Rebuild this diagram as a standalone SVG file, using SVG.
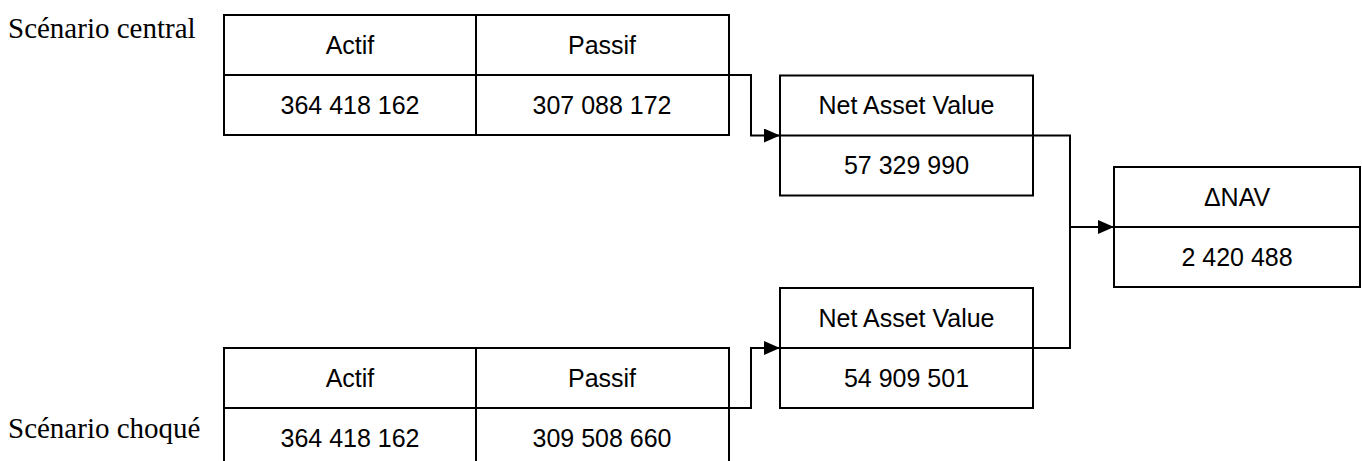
<svg xmlns="http://www.w3.org/2000/svg" width="1362" height="461" viewBox="0 0 1362 461">
<defs>
<marker id="arr" viewBox="0 0 16 14" refX="16" refY="7" markerWidth="16" markerHeight="14" markerUnits="userSpaceOnUse" orient="auto">
<path d="M0,0 L16,7 L0,14 z" fill="#000"/>
</marker>
<style>
.box{fill:#fff;stroke:#000;stroke-width:2}
.ln{fill:none;stroke:#000;stroke-width:2}
.t{font-family:"Liberation Sans",Arial,sans-serif;font-size:25px;fill:#000;text-anchor:middle}
.lbl{font-family:"Liberation Serif","Times New Roman",serif;font-size:29px;fill:#000}
</style>
</defs>
<rect width="1362" height="461" fill="#fff"/>
<text class="lbl" x="8" y="38">Scénario central</text>
<text class="lbl" x="8" y="438">Scénario choqué</text>
<g id="connectors">
<polyline class="ln" points="729,75 751,75 751,135.5 780,135.5" marker-end="url(#arr)"/>
<polyline class="ln" points="729,408 751,408 751,348 780,348" marker-end="url(#arr)"/>
<polyline class="ln" points="1033,135.5 1070,135.5 1070,227 1114,227" marker-end="url(#arr)"/>
<polyline class="ln" points="1033,348 1070,348 1070,227"/>
</g>
<g id="central">
<rect class="box" x="224" y="15" width="505" height="120"/>
<line class="ln" x1="224" y1="75" x2="729" y2="75"/>
<line class="ln" x1="476" y1="15" x2="476" y2="135"/>
<text class="t" x="350" y="54">Actif</text>
<text class="t" x="602" y="54">Passif</text>
<text class="t" x="350" y="114">364 418 162</text>
<text class="t" x="602" y="114">307 088 172</text>
</g>
<g id="choque">
<rect class="box" x="224" y="348" width="505" height="120"/>
<line class="ln" x1="224" y1="408" x2="729" y2="408"/>
<line class="ln" x1="476" y1="348" x2="476" y2="468"/>
<text class="t" x="350" y="387">Actif</text>
<text class="t" x="602" y="387">Passif</text>
<text class="t" x="350" y="447">364 418 162</text>
<text class="t" x="602" y="447">309 508 660</text>
</g>
<g id="nav1">
<rect class="box" x="780" y="75.5" width="253" height="120"/>
<line class="ln" x1="780" y1="135.5" x2="1033" y2="135.5"/>
<text class="t" x="906.5" y="114">Net Asset Value</text>
<text class="t" x="906.5" y="174">57 329 990</text>
</g>
<g id="nav2">
<rect class="box" x="780" y="288" width="253" height="120"/>
<line class="ln" x1="780" y1="348" x2="1033" y2="348"/>
<text class="t" x="906.5" y="327">Net Asset Value</text>
<text class="t" x="906.5" y="387">54 909 501</text>
</g>
<g id="dnav">
<rect class="box" x="1114" y="167" width="246" height="120"/>
<line class="ln" x1="1114" y1="227" x2="1360" y2="227"/>
<text class="t" x="1237" y="206">ΔNAV</text>
<text class="t" x="1237" y="266">2 420 488</text>
</g>
</svg>
